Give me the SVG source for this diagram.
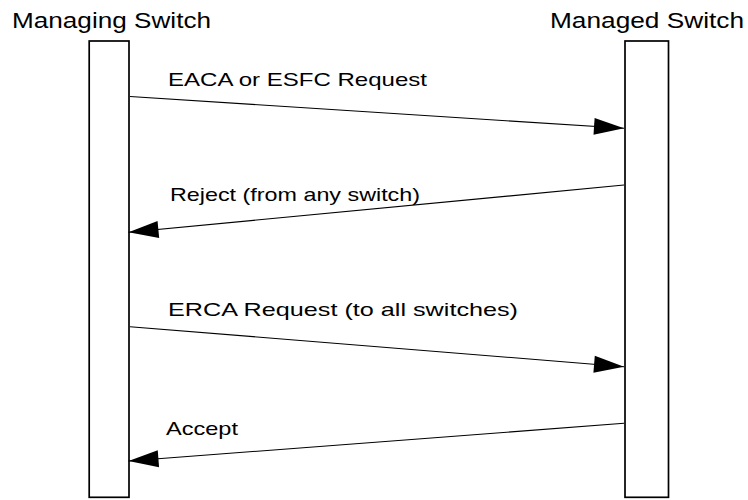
<svg xmlns="http://www.w3.org/2000/svg" width="748" height="500" viewBox="0 0 748 500">
  <defs>
    <marker id="arrow" markerUnits="userSpaceOnUse" markerWidth="30" markerHeight="17" refX="30" refY="8.5" orient="auto" overflow="visible">
      <path d="M0,0 L30,8.5 L0,17 Z" fill="#000"/>
    </marker>
    <style>
      .box { fill: #fff; stroke: #000; stroke-width: 1.7; }
      .title { font-family: "Liberation Sans", Arial, sans-serif; font-size: 22px; fill: #000; }
      .lbl { font-family: "Liberation Sans", Arial, sans-serif; font-size: 18.5px; fill: #000; }
      .msg { fill: none; stroke: #000; stroke-width: 1.1; marker-end: url(#arrow); }
    </style>
  </defs>
  <rect width="748" height="500" fill="#fff"/>

  <g id="managing-switch">
    <rect class="box" x="89.2" y="41" width="39.8" height="456.3"/>
    <text class="title" x="12" y="28.3" textLength="199" lengthAdjust="spacingAndGlyphs">Managing Switch</text>
  </g>

  <g id="managed-switch">
    <rect class="box" x="625" y="41" width="43.5" height="456.3"/>
    <text class="title" x="550" y="28.3" textLength="194" lengthAdjust="spacingAndGlyphs">Managed Switch</text>
  </g>

  <g id="connectors">
    <line class="msg" x1="130" y1="96.5" x2="624" y2="128.3"/>
    <line class="msg" x1="624" y1="185" x2="128.5" y2="232.3"/>
    <line class="msg" x1="130" y1="326.7" x2="624" y2="366.7"/>
    <line class="msg" x1="624" y1="423.3" x2="128.5" y2="461"/>
  </g>

  <g id="labels">
    <text class="lbl" x="168" y="86" textLength="259" lengthAdjust="spacingAndGlyphs">EACA or ESFC Request</text>
    <text class="lbl" x="170" y="200.7" textLength="250" lengthAdjust="spacingAndGlyphs">Reject (from any switch)</text>
    <text class="lbl" x="168" y="316" textLength="350" lengthAdjust="spacingAndGlyphs">ERCA Request (to all switches)</text>
    <text class="lbl" x="166" y="435" textLength="72" lengthAdjust="spacingAndGlyphs">Accept</text>
  </g>
</svg>
